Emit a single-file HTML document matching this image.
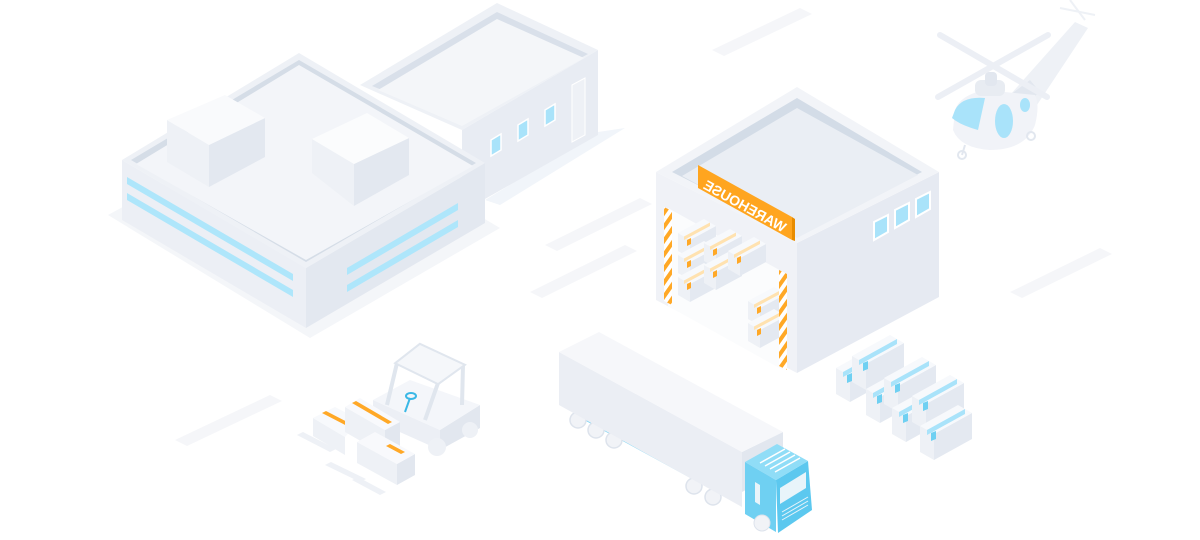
<!DOCTYPE html>
<html><head><meta charset="utf-8"><style>html,body{margin:0;padding:0;background:#fff;}svg{display:block}</style></head>
<body>
<svg width="1200" height="540" viewBox="0 0 1200 540" xmlns="http://www.w3.org/2000/svg">
<defs>
<pattern id="haz" width="8" height="8" patternUnits="userSpaceOnUse" patternTransform="rotate(35)">
<rect width="8" height="8" fill="#fff"/><rect width="4" height="8" fill="#ffa826"/></pattern>
<g id="bx">
<polygon points="0,0 -14,-8 -14,-34 0,-26" fill="#eef1f6"/>
<polygon points="0,0 38,-21 38,-47 0,-26" fill="#e4e9f1"/>
<polygon points="0,-26 -14,-34 24,-55 38,-47" fill="#f7f9fc"/>
<polygon points="-7,-30 31,-51 31,-46 -7,-25" fill="#a9e3fa"/>
<polygon points="-3,-27 2,-29 2,-21 -3,-19" fill="#6fd0f2"/>
</g>
<g id="bo">
<polygon points="0,0 -12,-7 -12,-25 0,-18" fill="#eef1f6"/>
<polygon points="0,0 26,-14 26,-32 0,-18" fill="#e4e9f1"/>
<polygon points="0,-18 -12,-25 14,-39 26,-32" fill="#f7f9fc"/>
<polygon points="-6,-21.5 20,-35.5 20,-32 -6,-18" fill="#ffe2b0"/>
<polygon points="-3,-18 1,-20 1,-14 -3,-12" fill="#ffa826"/>
</g>
</defs>

<!-- road lines -->
<g fill="#f5f6f9">
<polygon points="712,50 800,8 812,14 724,56"/>
<polygon points="545,245 640,198 652,204 557,251"/>
<polygon points="530,292 625,245 637,251 542,298"/>
<polygon points="1010,292 1100,248 1112,254 1022,298"/>
<polygon points="175,440 270,395 282,401 187,446"/>
</g>

<!-- ground shadows -->
<polygon points="108,215 310,338 500,228 300,110" fill="#f4f6f9"/>
<polygon points="485,200 598,132 625,128 500,205" fill="#f1f5fa"/>

<!-- back building -->
<polygon points="462,130 598,50 598,135 462,212" fill="#e8ecf3"/>
<polygon points="360,85 497,3 598,50 462,130" fill="#eef1f6"/>
<polygon points="372,86 497,12 588,54 462,122" fill="#d9e0ea"/>
<polygon points="378,90 497,19 584,58 462,126" fill="#f4f6f9"/>
<g fill="#a9e3fa" stroke="#fff" stroke-width="1.5">
<polygon points="491,140 501,134 501,150 491,156"/>
<polygon points="518,125 528,119 528,135 518,141"/>
<polygon points="545,110 555,104 555,120 545,126"/>
</g>
<polygon points="572,85 585,78 585,135 572,142" fill="#eef1f6" stroke="#fff"/>

<!-- main building -->
<polygon points="122,160 306,268 306,328 122,220" fill="#eceff5"/>
<polygon points="306,268 485,163 485,223 306,328" fill="#e3e8f0"/>
<polygon points="122,160 299,53 485,163 306,268" fill="#eef1f6"/>
<polygon points="131,160 299,60 476,163 306,262" fill="#d5dde7"/>
<polygon points="136,164 299,65 473,166 306,260" fill="#f3f5f9"/>
<g fill="#aee6fb">
<polygon points="127,177 293,274 293,281 127,184"/>
<polygon points="127,193 293,290 293,297 127,200"/>
<polygon points="347,268 458,203 458,210 347,275"/>
<polygon points="347,285 458,220 458,227 347,292"/>
</g>
<polygon points="167,120 209,145 209,187 167,162" fill="#eef1f6"/>
<polygon points="209,145 265,118 265,157 209,187" fill="#e3e8f0"/>
<polygon points="167,120 225,95 265,118 209,145" fill="#f9fafc"/>
<polygon points="312,139 354,164 354,206 312,173" fill="#eef1f6"/>
<polygon points="354,164 409,138 409,175 354,206" fill="#e3e8f0"/>
<polygon points="312,139 367,113 409,138 354,164" fill="#fbfcfd"/>

<!-- warehouse -->
<polygon points="797,243 939,172 939,297 797,373" fill="#e6eaf2"/>
<polygon points="656,172 797,243 797,373 656,300" fill="#f0f2f7"/>
<polygon points="656,172 797,87 939,172 797,243" fill="#f2f4f8"/>
<polygon points="672,172 797,98 922,172 797,235" fill="#d3dce7"/>
<polygon points="682,176 797,108 918,175 797,238" fill="#eaeef4"/>
<g fill="#a9e3fa" stroke="#fff" stroke-width="2">
<polygon points="874,222 888,215 888,232 874,240"/>
<polygon points="895,210 909,203 909,220 895,228"/>
<polygon points="916,199 930,192 930,209 916,217"/>
</g>
<polygon points="668,208 783,272 783,370 668,306" fill="#fbfcfd"/>
<use href="#bo" x="690" y="258"/>
<use href="#bo" x="690" y="280"/>
<use href="#bo" x="690" y="302"/>
<use href="#bo" x="716" y="268"/>
<use href="#bo" x="716" y="290"/>
<use href="#bo" x="740" y="276"/>
<use href="#bo" x="760" y="326"/>
<use href="#bo" x="760" y="348"/>
<polygon points="664,207 672,211 672,305 664,301" fill="url(#haz)"/>
<polygon points="779,270 787,274 787,370 779,366" fill="url(#haz)"/>
<polygon points="698,165 792,217 792,240 698,188" fill="#ffa51f"/>
<polygon points="792,217 795,219 795,241 792,240" fill="#e88c00"/>
<text transform="translate(745,206) rotate(29) scale(-1,1)" text-anchor="middle" font-family="Liberation Sans, sans-serif" font-weight="bold" font-size="14" fill="#fff" dy="5">WAREHOUSE</text>

<!-- helicopter -->
<g>
<polygon points="1010,95 1075,22 1088,28 1035,108" fill="#eef1f6"/>
<polygon points="1010,95 1030,80 1040,92 1020,108" fill="#e2e7ef"/>
<line x1="1060" y1="8" x2="1095" y2="15" stroke="#eef1f6" stroke-width="2"/>
<line x1="1070" y1="0" x2="1085" y2="20" stroke="#eef1f6" stroke-width="2"/>
<path d="M955,110 Q960,95 985,90 L1035,95 Q1040,105 1035,125 Q1025,150 990,150 Q960,148 953,130 Z" fill="#f1f3f8"/>
<path d="M955,110 Q962,96 985,98 L978,130 Q960,125 952,118 Z" fill="#a9e3fa"/>
<ellipse cx="1004" cy="121" rx="9" ry="17" fill="#a9e3fa"/>
<ellipse cx="1025" cy="105" rx="5" ry="7" fill="#a9e3fa"/>
<rect x="975" y="80" width="30" height="16" rx="6" fill="#e8ecf2"/>
<rect x="985" y="72" width="12" height="14" rx="4" fill="#e2e7ef"/>
<line x1="940" y1="35" x2="1047" y2="97" stroke="#eceff5" stroke-width="6" stroke-linecap="round"/>
<line x1="938" y1="97" x2="1048" y2="35" stroke="#eceff5" stroke-width="6" stroke-linecap="round"/>
<line x1="965" y1="145" x2="962" y2="155" stroke="#e2e7ef" stroke-width="2"/>
<circle cx="962" cy="155" r="4" fill="none" stroke="#e2e7ef" stroke-width="2"/>
<circle cx="1031" cy="136" r="4" fill="none" stroke="#e2e7ef" stroke-width="2"/>
</g>

<!-- box stack right -->
<use href="#bx" x="850" y="402"/>
<use href="#bx" x="866" y="390"/>
<use href="#bx" x="880" y="423"/>
<use href="#bx" x="898" y="412"/>
<use href="#bx" x="906" y="442"/>
<use href="#bx" x="926" y="430"/>
<use href="#bx" x="934" y="460"/>

<!-- forklift -->
<g>
<polygon points="373,400 440,430 440,450 373,420" fill="#eceff5"/>
<polygon points="440,430 480,405 480,428 440,450" fill="#e2e7ef"/>
<polygon points="373,400 410,380 480,405 440,430" fill="#f4f6fa"/>
<circle cx="437" cy="447" r="9" fill="#eef1f6"/>
<circle cx="470" cy="430" r="8" fill="#eef1f6"/>
<g fill="none" stroke="#e0e6ee" stroke-width="4">
<polygon points="397,363 420,345 463,365 438,383"/>
<line x1="397" y1="363" x2="387" y2="405"/>
<line x1="438" y1="383" x2="425" y2="420"/>
<line x1="463" y1="365" x2="462" y2="405"/>
</g>
<polygon points="397,363 420,345 463,365 438,383" fill="#f5f7fa"/>
<line x1="410" y1="398" x2="405" y2="412" stroke="#3bb8e6" stroke-width="2"/>
<ellipse cx="411" cy="396" rx="5" ry="3" fill="none" stroke="#3bb8e6" stroke-width="2"/>
<g fill="#eef1f6">
<polygon points="297,435 330,452 336,449 303,432"/>
<polygon points="325,465 360,482 366,479 331,462"/>
<polygon points="352,480 380,495 386,492 358,477"/>
</g>
<polygon points="313,418 345,437 345,455 313,436" fill="#eef1f6"/>
<polygon points="313,418 335,407 360,420 345,437" fill="#f7f9fc"/>
<polygon points="322,413 326,411 355,426 351,428" fill="#ffa826"/>
<polygon points="345,407 385,430 385,455 345,432" fill="#eef1f6"/>
<polygon points="385,430 400,422 400,447 385,455" fill="#e2e7ef"/>
<polygon points="345,407 360,398 400,422 385,430" fill="#f8f9fc"/>
<polygon points="352,403 356,401 392,422 388,424" fill="#ffa826"/>
<polygon points="357,442 397,464 397,485 357,463" fill="#eef1f6"/>
<polygon points="397,464 415,454 415,475 397,485" fill="#e2e7ef"/>
<polygon points="357,442 375,432 415,454 397,464" fill="#f8f9fc"/>
<polygon points="386,446 390,444 405,452 401,454" fill="#ffa826"/>
</g>

<!-- truck -->
<g>
<polygon points="575,405 740,495 740,505 575,415" fill="#7fd5f4"/>
<g fill="#f1f3f7" stroke="#dde3ec" stroke-width="1.5">
<circle cx="578" cy="420" r="8"/><circle cx="596" cy="430" r="8"/><circle cx="614" cy="440" r="8"/>
<circle cx="694" cy="486" r="8"/><circle cx="713" cy="497" r="8"/>
</g>
<polygon points="559,352 742,452 742,507 559,405" fill="#ebeef4"/>
<polygon points="742,452 783,432 783,470 742,492" fill="#e2e7ef"/>
<polygon points="559,352 599,332 783,432 742,452" fill="#f6f7fa"/>
<polygon points="745,462 776,480 776,532 745,514" fill="#6fd0f2"/>
<polygon points="776,480 808,461 812,510 778,533" fill="#5cc8ef"/>
<polygon points="745,462 777,444 808,461 776,480" fill="#90ddf7"/>
<g stroke="#fff" stroke-width="1.5">
<line x1="760" y1="463" x2="785" y2="449"/><line x1="765" y1="466" x2="790" y2="452"/>
<line x1="770" y1="469" x2="795" y2="455"/><line x1="775" y1="472" x2="800" y2="458"/>
</g>
<polygon points="780,488 806,472 806,488 780,504" fill="#e8f4fa"/>
<polygon points="755,482 760,485 760,505 755,502" fill="#e8f4fa"/>
<g stroke="#e8f4fa" stroke-width="1"><line x1="782" y1="512" x2="808" y2="497"/><line x1="782" y1="516" x2="808" y2="501"/><line x1="782" y1="520" x2="808" y2="505"/></g>
<circle cx="762" cy="523" r="8" fill="#f1f3f7" stroke="#dde3ec"/>
</g>
</svg>
</body></html>
